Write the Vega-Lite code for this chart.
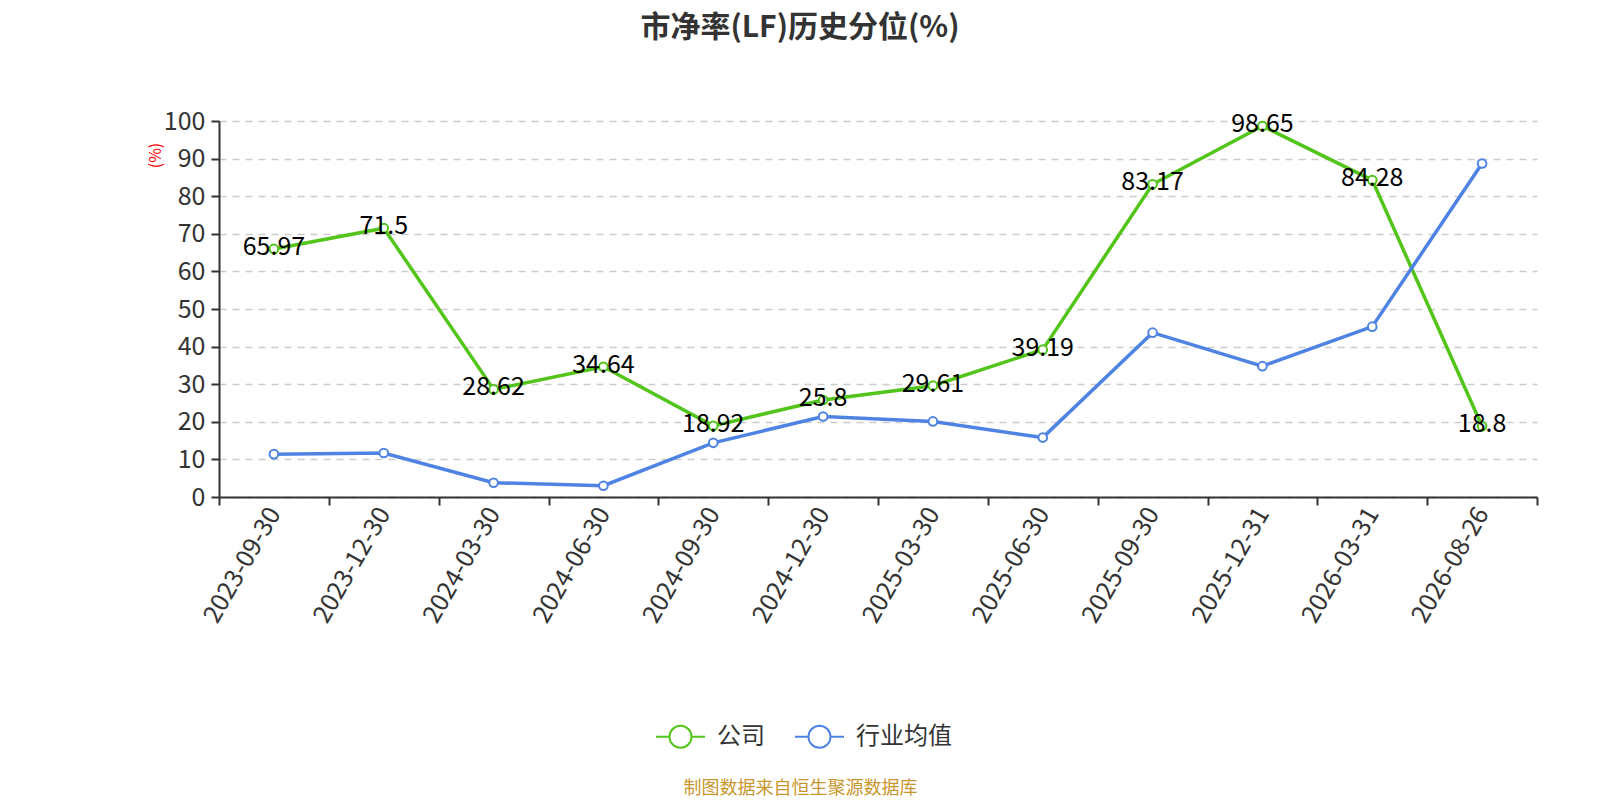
{
  "$schema": "https://vega.github.io/schema/vega-lite/v6.json",
  "width": 1318,
  "height": 376,
  "autosize": {"type": "none"},
  "padding": {"left": 219, "top": 121, "right": 63, "bottom": 303},
  "background": "white",
  "title": {
    "text": "市净率(LF)历史分位(%)",
    "font": "Noto Sans CJK SC",
    "fontSize": 30,
    "fontWeight": "bold",
    "color": "#333333",
    "anchor": "middle",
    "dx": -78,
    "offset": 66
  },
  "data": {
    "values": [
      {"date": "2023-09-30", "series": "公司", "value": 65.97},
      {"date": "2023-12-30", "series": "公司", "value": 71.5},
      {"date": "2024-03-30", "series": "公司", "value": 28.62},
      {"date": "2024-06-30", "series": "公司", "value": 34.64},
      {"date": "2024-09-30", "series": "公司", "value": 18.92},
      {"date": "2024-12-30", "series": "公司", "value": 25.8},
      {"date": "2025-03-30", "series": "公司", "value": 29.61},
      {"date": "2025-06-30", "series": "公司", "value": 39.19},
      {"date": "2025-09-30", "series": "公司", "value": 83.17},
      {"date": "2025-12-31", "series": "公司", "value": 98.65},
      {"date": "2026-03-31", "series": "公司", "value": 84.28},
      {"date": "2026-08-26", "series": "公司", "value": 18.8},
      {"date": "2023-09-30", "series": "行业均值", "value": 11.4},
      {"date": "2023-12-30", "series": "行业均值", "value": 11.7},
      {"date": "2024-03-30", "series": "行业均值", "value": 3.8},
      {"date": "2024-06-30", "series": "行业均值", "value": 3.0},
      {"date": "2024-09-30", "series": "行业均值", "value": 14.4},
      {"date": "2024-12-30", "series": "行业均值", "value": 21.4},
      {"date": "2025-03-30", "series": "行业均值", "value": 20.1},
      {"date": "2025-06-30", "series": "行业均值", "value": 15.8},
      {"date": "2025-09-30", "series": "行业均值", "value": 43.7},
      {"date": "2025-12-31", "series": "行业均值", "value": 34.8},
      {"date": "2026-03-31", "series": "行业均值", "value": 45.3},
      {"date": "2026-08-26", "series": "行业均值", "value": 88.7}
    ]
  },
  "encoding": {
    "x": {
      "field": "date",
      "type": "ordinal",
      "bandPosition": 0.5,
      "scale": {"type": "band", "paddingInner": 0, "paddingOuter": 0},
      "axis": {
        "title": "制图数据来自恒生聚源数据库",
        "titleFont": "Noto Sans CJK SC",
        "titleFontSize": 18,
        "titleFontWeight": "normal",
        "titleColor": "#c8962e",
        "titleX": 581,
        "titleY": 291,
        "titleAlign": "center",
        "titleBaseline": "middle",
        "tickBand": "extent",
        "labelAngle": -60,
        "labelAlign": "right",
        "labelBaseline": "middle",
        "labelPadding": 4,
        "labelFont": "Noto Sans CJK SC",
        "labelFontSize": 25,
        "labelColor": "#333333",
        "domainColor": "#333333",
        "domainWidth": 2,
        "tickColor": "#333333",
        "tickWidth": 2,
        "tickSize": 8,
        "grid": false
      }
    },
    "y": {
      "field": "value",
      "type": "quantitative",
      "scale": {"domain": [0, 100]},
      "axis": {
        "title": "(%)",
        "titleFont": "Noto Sans CJK SC",
        "titleFontSize": 16,
        "titleFontWeight": "normal",
        "titleColor": "red",
        "titleX": -64,
        "titleY": 34,
        "titleAlign": "center",
        "titleBaseline": "middle",
        "values": [0, 10, 20, 30, 40, 50, 60, 70, 80, 90, 100],
        "labelFont": "Noto Sans CJK SC",
        "labelFontSize": 25,
        "labelColor": "#333333",
        "labelPadding": 6,
        "domainColor": "#333333",
        "domainWidth": 2,
        "tickColor": "#333333",
        "tickWidth": 2,
        "tickSize": 8,
        "grid": true,
        "gridColor": "#cccccc",
        "gridWidth": 1.5,
        "gridDash": [7, 6]
      }
    },
    "color": {
      "field": "series",
      "type": "nominal",
      "scale": {"domain": ["公司", "行业均值"], "range": ["#52c41a", "#4f83e3"]},
      "legend": {
        "title": null,
        "orient": "none",
        "direction": "horizontal",
        "legendX": 436,
        "legendY": 590,
        "padding": 0,
        "symbolType": "M-1,0L-0.45,0M0.45,0A0.45,0.45 0 1,1 -0.45,0A0.45,0.45 0 1,1 0.45,0M0.45,0L1,0",
        "symbolSize": 2401,
        "symbolStrokeWidth": 2,
        "symbolFillColor": "white",
        "labelFont": "Noto Sans CJK SC",
        "labelFontSize": 24,
        "labelColor": "#333333",
        "labelOffset": 11,
        "columnPadding": 26
      }
    }
  },
  "layer": [
    {
      "mark": {"type": "line", "strokeWidth": 3.5}
    },
    {
      "mark": {"type": "point", "shape": "circle", "filled": false, "fill": "white", "size": 75, "strokeWidth": 2, "opacity": 1}
    },
    {
      "transform": [{"filter": "datum.series == '公司'"}],
      "mark": {"type": "text", "font": "Noto Sans CJK SC", "fontSize": 25, "align": "center", "baseline": "middle", "dy": -2},
      "encoding": {
        "text": {"field": "value", "type": "quantitative"},
        "color": {"value": "black"}
      }
    }
  ],
  "config": {
    "view": {"stroke": null}
  }
}
